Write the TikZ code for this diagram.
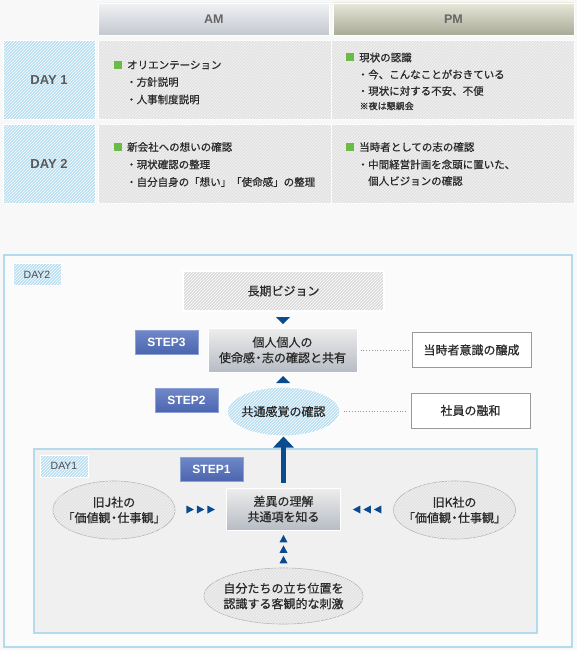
\documentclass[tikz,border=0pt]{standalone}
\usepackage{fontspec}
\setmainfont{Noto Sans CJK JP}
\newfontfamily\medfont{Noto Sans CJK JP}[FakeBold=0.7]
\newfontfamily\enfont{Liberation Sans}
\usetikzlibrary{positioning,shapes,arrows.meta,patterns,calc,shadows}
\definecolor{ink}{HTML}{2A2A2A}
\definecolor{navy}{HTML}{0A4B8F}
\definecolor{frameblue}{HTML}{B4DAEE}
\definecolor{dayblue}{HTML}{B9DEF2}
\definecolor{cellgray}{HTML}{E2E2E2}
\definecolor{okgreen}{HTML}{6CBB47}
\definecolor{pagebg}{HTML}{F8F8F8}
\definecolor{amtop}{HTML}{F1F2F4}
\definecolor{ambot}{HTML}{C3C8CF}
\definecolor{pmtop}{HTML}{E8E8DA}
\definecolor{pmbot}{HTML}{A9A997}
\definecolor{steptop}{HTML}{7088C8}
\definecolor{stepbot}{HTML}{4B65AF}
\definecolor{stepline}{HTML}{8EA1D5}
\definecolor{boxtop}{HTML}{EDEDED}
\definecolor{boxbot}{HTML}{B7BCC4}
\newcommand{\nakaguro}{\kern-2.5pt・\kern-2.5pt}
\tikzstyle{stripes} = [postaction={pattern=north east lines, pattern color=white}]
\tikzstyle{amhead} = [rectangle, top color=amtop, bottom color=ambot, draw=white, minimum width=231pt, minimum height=32pt, font=\enfont\bfseries\fontsize{12.5}{14}\selectfont, text=black!60]
\tikzstyle{pmhead} = [rectangle, top color=pmtop, bottom color=pmbot, draw=white, minimum width=241pt, minimum height=32pt, font=\enfont\bfseries\fontsize{12.5}{14}\selectfont, text=black!60]
\tikzstyle{daycell} = [rectangle, fill=dayblue, stripes, draw=white, line width=1pt, minimum width=92pt, minimum height=79pt, font=\enfont\bfseries\fontsize{13}{15}\selectfont, text=black!65]
\tikzstyle{cell} = [rectangle, fill=cellgray, postaction={pattern=north east lines, pattern color=white!92!gray}, draw=white, line width=1pt, minimum height=79pt]
\tikzstyle{sq} = [rectangle, fill=okgreen, minimum size=8pt, inner sep=0pt]
\tikzstyle{item} = [anchor=west, inner sep=0pt, text=ink, font=\medfont\fontsize{10.5}{12}\selectfont]
\tikzstyle{frame} = [draw=frameblue, line width=2pt]
\tikzstyle{tag} = [rectangle, fill=dayblue, stripes, draw=white, line width=1pt, minimum width=48pt, minimum height=22pt, inner sep=0pt, font=\enfont\fontsize{10.5}{12}\selectfont, text=black!70]
\tikzstyle{stepbox} = [rectangle, top color=steptop, bottom color=stepbot, draw=stepline, minimum width=63pt, minimum height=24pt, inner sep=0pt, text=white, font=\enfont\bfseries\fontsize{12}{14}\selectfont]
\tikzstyle{body} = [text=ink, align=center, font=\medfont\fontsize{12}{15.5}\selectfont]
\tikzstyle{vision} = [body, rectangle, fill=gray!28, stripes, draw=white, line width=1.5pt, minimum width=201pt, minimum height=40pt, drop shadow={opacity=0.25, shadow xshift=0.6pt, shadow yshift=-0.6pt}]
\tikzstyle{graybox} = [body, rectangle, top color=boxtop, bottom color=boxbot, draw=white, line width=1pt, minimum width=149pt, minimum height=44pt, drop shadow={opacity=0.15, shadow xshift=0.6pt, shadow yshift=-0.6pt}]
\tikzstyle{outbox} = [body, rectangle, fill=white, draw=gray!80, line width=1pt, minimum width=119pt, minimum height=35pt]
\tikzstyle{blueell} = [body, ellipse, fill=dayblue, stripes, draw=white, line width=1pt, inner sep=0pt, inner xsep=-10pt, minimum width=113pt, minimum height=49pt]
\tikzstyle{grayell} = [body, ellipse, fill=gray!22, postaction={pattern=north east lines, pattern color=white!90!gray}, draw=gray!60, line width=0.6pt, inner sep=0pt, inner xsep=-10pt, minimum width=122pt, minimum height=58pt]
\tikzstyle{dotline} = [draw=gray!80, dotted, line width=0.8pt, shorten <=3pt, shorten >=3pt]
\tikzstyle{bigarrow} = [draw=navy, line width=5pt, -{Triangle[width=20pt,length=11pt]}, shorten <=5pt]
\tikzset{
  tri/.pic={\fill[navy] (-3.75,-4) -- (3.75,0) -- (-3.75,4) -- cycle;},
  bigtri/.pic={\fill[navy] (-3.5,-7) -- (3.5,0) -- (-3.5,7) -- cycle;}
}

\begin{document}
\begin{tikzpicture}[x=1pt,y=-1pt,>=Latex]
	\useasboundingbox (0,0) rectangle (577,650);
	\fill[pagebg] (0,0) rectangle (577,650);

	% schedule table
	\node[amhead] (am) at (213.75,19) {AM};
	\node[pmhead] (pm) at (453.5,19) {PM};
	\node[daycell] (d1) at (49,80.5) {DAY 1};
	\node[daycell] (d2) at (49,164.25) {DAY 2};
	\node[cell, minimum width=232.5pt] (d1am) at (214.75,80.5) {};
	\node[cell, minimum width=243pt] (d1pm) at (452.5,80.5) {};
	\node[cell, minimum width=232.5pt] (d2am) at (214.75,164.25) {};
	\node[cell, minimum width=243pt] (d2pm) at (452.5,164.25) {};
	\draw[draw=white, densely dotted, line width=1pt] (d1am.north east) -- (d1am.south east);
	\draw[draw=white, densely dotted, line width=1pt] (d2am.north east) -- (d2am.south east);

	\node[sq] (sq1) at (117.5,65) {};
	\node[item] (t1) at (127,65) {オリエンテーション};
	\node[item] (t2) at (126,82) {・方針説明};
	\node[item] (t3) at (126,99.5) {・人事制度説明};

	\node[sq] (sq2) at (349.7,57.5) {};
	\node[item] (t4) at (359,57.5) {現状の認識};
	\node[item] (t5) at (357.5,74.5) {・今、こんなことがおきている};
	\node[item] (t6) at (357.5,91) {・現状に対する不安、不便};
	\node[item, font=\medfont\fontsize{9}{10}\selectfont] (t7) at (359.5,106) {※夜は懇親会};

	\node[sq] (sq3) at (117.5,147) {};
	\node[item] (t8) at (127,147) {新会社への想いの確認};
	\node[item] (t9) at (126,164.5) {・現状確認の整理};
	\node[item] (t10) at (126,182) {・自分自身の「想い」「使命感」の整理};

	\node[sq] (sq4) at (349.7,147) {};
	\node[item] (t11) at (359,147) {当時者としての志の確認};
	\node[item] (t12) at (357.5,164.5) {・中間経営計画を念頭に置いた、};
	\node[item] (t13) at (357.5,181) {\phantom{・}個人ビジョンの確認};

	% day 2 diagram
	\draw[frame, fill=pagebg!60!white] (4,255) rectangle (572,647);
	\node[tag] (tag2) at (37,274.5) {DAY2};
	\node[vision] (vision) at (283.5,291) {長期ビジョン};
	\node[graybox] (share) at (282.5,350) {個人個人の\\使命感\nakaguro 志の確認と共有};
	\node[stepbox] (s3) at (166.5,342) {STEP3};
	\node[outbox, right=54pt of share] (aware) {当時者意識の醸成};
	\node[blueell] (common) at (283.5,411.5) {共通感覚の確認};
	\node[stepbox] (s2) at (186.5,400.5) {STEP2};
	\node[outbox] (harmony) at (470.5,410.5) {社員の融和};

	\draw[dotline] (share.east) -- (aware.west);
	\draw[dotline] (common.east) -- (common.east -| harmony.west);
	\pic[rotate=-90] at ($(vision.south)!0.5!(share.north)+(0,1)$) {bigtri};
	\pic[rotate=90] at ($(share.south)!0.5!(common.north)$) {bigtri};

	% day 1 diagram
	\draw[frame, fill=gray!12] (34,449) rectangle (537,633);
	\node[tag] (tag1) at (64,466) {DAY1};
	\node[stepbox] (s1) at (211.5,469) {STEP1};
	\node[graybox, minimum width=114pt, minimum height=42pt] (diff) at (283.5,509) {差異の理解\\共通項を知る};
	\node[grayell] (oldj) at (114,510) {旧J社の\\「価値観\nakaguro 仕事観」};
	\node[grayell] (oldk) at (454.5,510) {旧K社の\\「価値観\nakaguro 仕事観」};
	\node[grayell, minimum width=159pt, minimum height=56pt] (self) at (283.5,596) {自分たちの立ち位置を\\認識する客観的な刺激};

	\foreach \d in {-10.5,0,10.5} {
		\pic at ($(oldj.east)!0.5!(diff.west)+(\d,0)$) {tri};
		\pic[rotate=180] at ($(diff.east)!0.5!(oldk.west)+(\d,0)$) {tri};
		\pic[rotate=90] at ($(diff.south)!0.5!(self.north)+(0,\d)$) {tri};
	}
	\draw[bigarrow] (diff.north) -- (common.south);
\end{tikzpicture}
\end{document}
